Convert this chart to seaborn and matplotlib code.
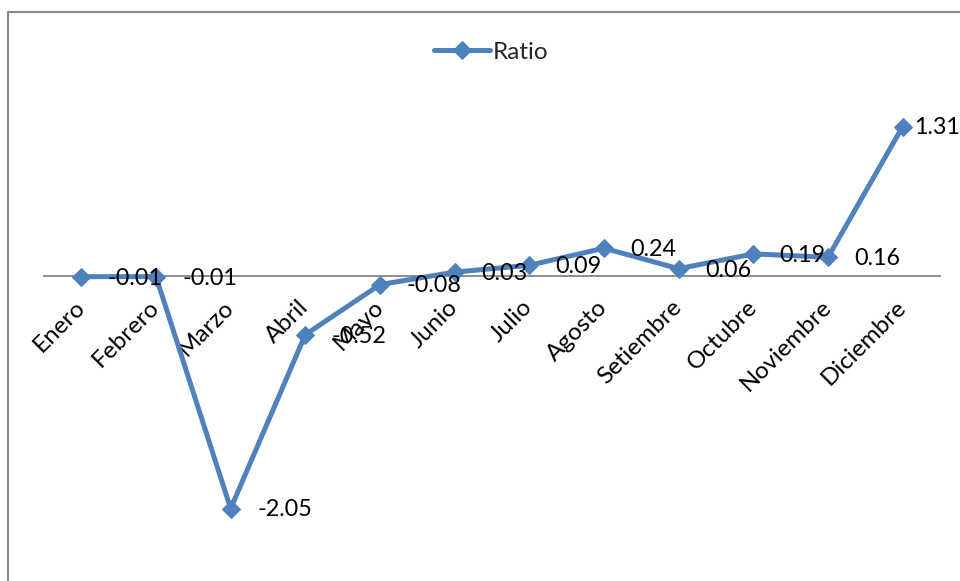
import matplotlib
matplotlib.use("Agg")
import matplotlib.pyplot as plt
import matplotlib.transforms as mtransforms
from matplotlib.lines import Line2D
import numpy as np
import pandas as pd
import seaborn as sns

months = ["Enero", "Febrero", "Marzo", "Abril", "Mayo", "Junio", "Julio",
          "Agosto", "Setiembre", "Octubre", "Noviembre", "Diciembre"]
ratio = [-0.01, -0.01, -2.05, -0.52, -0.08, 0.03, 0.09, 0.24, 0.06, 0.19, 0.16, 1.31]
series_name = "Ratio"

sns.set_theme(style="white")
plt.rcParams["font.family"] = ["Lato", "DejaVu Sans"]

BLUE = "#4F81BD"
GRAY = "#868686"
FS_TEXT = 17.5
FS_NUM = 16.8

df = pd.DataFrame({"Mes": months, series_name: ratio})

W, H = 960, 581
fig = plt.figure(figsize=(W / 100, H / 100), dpi=100)
fig.patch.set_facecolor("white")

# plot area in pixel terms
left_px, right_px = 44, 940
zero_px, px_per_unit = 275.5, 113.7
ymin, ymax = -2.5, 2.0
top_px = zero_px - ymax * px_per_unit
bot_px = zero_px - ymin * px_per_unit
ax = fig.add_axes([left_px / W, (H - bot_px) / H,
                   (right_px - left_px) / W, (bot_px - top_px) / H])

sns.lineplot(data=df, x="Mes", y=series_name, sort=False, ax=ax,
             color=BLUE, linewidth=3.6, marker="D", markersize=9.5,
             markeredgecolor=BLUE, markerfacecolor=BLUE, label=series_name)

ax.set_xlim(-0.5, len(months) - 0.5)
ax.set_ylim(ymin, ymax)
ax.set_xlabel("")
ax.set_ylabel("")
ax.set_yticks([])

for side in ["left", "right", "top"]:
    ax.spines[side].set_visible(False)
ax.spines["bottom"].set_position(("data", 0))
ax.spines["bottom"].set_color(GRAY)
ax.spines["bottom"].set_linewidth(1.3)
ax.spines["bottom"].set_zorder(0)

ax.set_xticks(range(len(months)))
ax.set_xticklabels(months, rotation=45, ha="right", va="top",
                   fontsize=FS_TEXT, color="black")
ax.tick_params(axis="x", length=0, pad=15)
shift = mtransforms.ScaledTranslation(7.5 / 100, 0, fig.dpi_scale_trans)
for lbl in ax.get_xticklabels():
    lbl.set_transform(lbl.get_transform() + shift)

# value labels to the right of each point
for i, v in enumerate(ratio):
    dx = 19 if i < len(ratio) - 1 else 8
    ax.annotate(f"{v:.2f}", (i, v), xytext=(dx, -1), textcoords="offset points",
                ha="left", va="center", fontsize=FS_NUM, color="black",
                annotation_clip=False)

leg = ax.legend(loc="center", bbox_to_anchor=(491 / W, 1 - 52 / H),
                bbox_transform=fig.transFigure, frameon=False,
                fontsize=FS_TEXT, handlelength=2.3, handletextpad=0.1)

# chart border (left and top edges)
fig.add_artist(Line2D([8 / W, 8 / W], [0, 1 - 12 / H], transform=fig.transFigure,
                      color="#8a8a8a", linewidth=1.5))
fig.add_artist(Line2D([8 / W, 1], [1 - 12 / H, 1 - 12 / H], transform=fig.transFigure,
                      color="#8a8a8a", linewidth=1.5))

fig.savefig("out.png", dpi=100, facecolor="white")
